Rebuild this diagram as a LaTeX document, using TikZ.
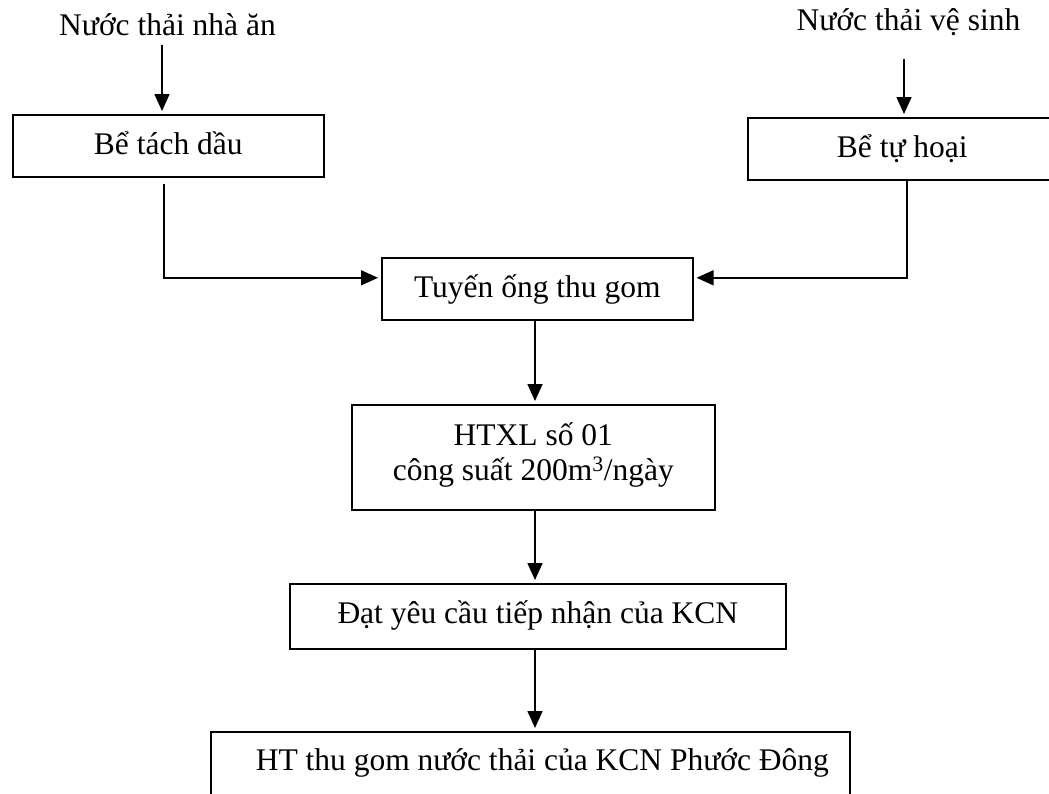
\documentclass[tikz,border=0pt]{standalone}
\usepackage{fontspec}
\setmainfont{Liberation Serif}
\usetikzlibrary{arrows.meta}
\begin{document}
\begin{tikzpicture}[x=1pt,y=-1pt,
  bodyfont/.style={font=\fontsize{31.5}{35}\selectfont},
  label/.style={bodyfont, inner sep=0pt, anchor=base},
  boxbase/.style={draw, line width=1.6pt, bodyfont, inner xsep=0pt, inner ysep=0pt, anchor=north west},
  stage/.style={boxbase, text height=40pt, text depth=22pt},
  arr/.style={-{Triangle[length=17pt,width=15pt]}, line width=1.6pt, shorten >=3pt}]
  \useasboundingbox (0,0) rectangle (1049,793);

  % sources
  \node[label] (src1) at (167.5,35) {Nước thải nhà ăn};
  \node[label] (src2) at (908.5,30) {Nước thải vệ sinh};

  % treatment chain
  \node[stage, minimum width=311pt] (sep)  at (12,114)  {Bể tách dầu};
  \node[stage, minimum width=309pt] (sept) at (747,117) {Bể tự hoại};
  \node[stage, minimum width=311pt] (pipe) at (381,257) {Tuyến ống thu gom};
  \node[boxbase, align=center, minimum width=363pt] (plant) at (351,404)
    {\rule{0pt}{41pt}HTXL số 01\\công suất 200m\textsuperscript{\fontsize{22}{22}\selectfont 3}/ngày\rule[-29pt]{0pt}{29pt}};
  \node[stage, minimum width=496pt, text depth=25pt] (ok) at (289,583) {Đạt yêu cầu tiếp nhận của KCN};
  \node[stage, text height=39pt, text depth=40pt] (net) at (210,731)
    {\makebox[639pt][l]{\hspace*{45pt}HT thu gom nước thải của KCN Phước Đông}};

  \coordinate (col) at (535,0);

  % inflows
  \draw[arr, shorten <=9pt] ([xshift=-5.5pt]src1.south) -- ([xshift=-5.5pt]src1.south |- sep.north);
  \draw[arr, shorten <=24pt] ([xshift=-4.5pt]src2.south) -- ([xshift=-4.5pt]src2.south |- sept.north);

  % to the collection line
  \draw[arr, shorten <=6pt] ([xshift=-4.5pt]sep.south) |- ([yshift=11pt]pipe.west);
  \draw[arr] ([xshift=4.5pt]sept.south) |- ([yshift=11pt]pipe.east);

  % main column
  \draw[arr] (pipe.south -| col) -- (plant.north -| col);
  \draw[arr] (plant.south -| col) -- (ok.north -| col);
  \draw[arr] (ok.south -| col) -- (net.north -| col);
\end{tikzpicture}
\end{document}
